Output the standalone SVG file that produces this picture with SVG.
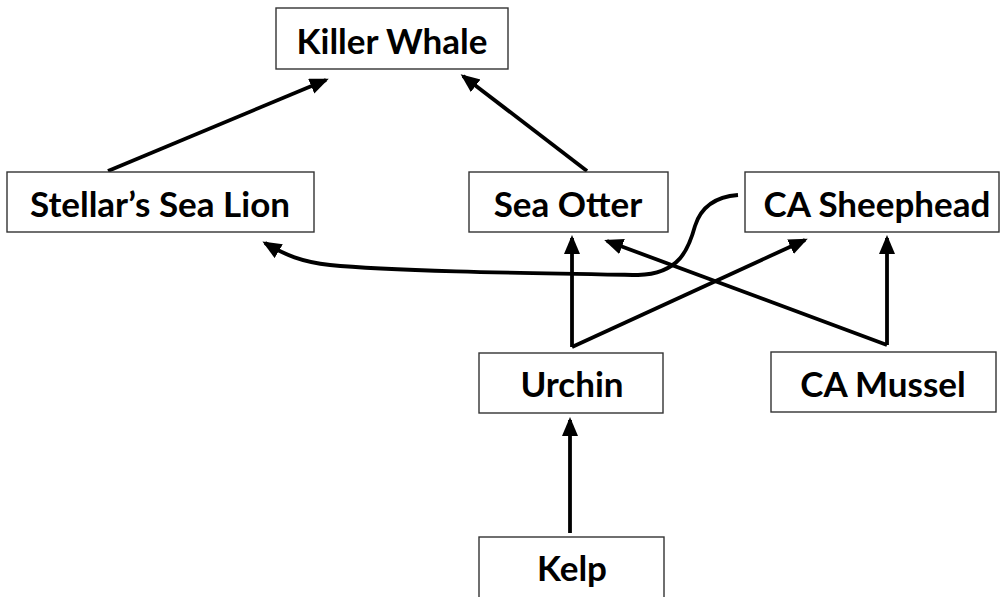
<svg xmlns="http://www.w3.org/2000/svg" width="1001" height="597" viewBox="0 0 1001 597">
<style>
.box{fill:#fff;stroke:#333;stroke-width:1.4}
.lbl{font-family:Lato,"Open Sans","Liberation Sans",sans-serif;font-weight:bold;font-size:35px;fill:#000;text-anchor:middle}
.c{fill:none;stroke:#000;stroke-width:3.8;marker-end:url(#ah)}
</style>
<defs>
<marker id="ah" markerUnits="userSpaceOnUse" markerWidth="20" markerHeight="18" refX="16" refY="8" orient="auto">
<path d="M0,0 L19,8 L0,16 z" fill="#000"/>
</marker>
</defs>
<rect width="1001" height="597" fill="#fff"/>
<g id="connectors">
<path class="c" d="M108,171 L326,80"/>
<path class="c" d="M587,171 L463,76"/>
<path class="c" d="M572,347 L572,238"/>
<path class="c" d="M572,347 L805,240"/>
<path class="c" d="M887,345 L887,238"/>
<path class="c" d="M887,345 L607,241"/>
<path class="c" d="M570,533 L570,420"/>
<path class="c" d="M738,195 C712,197 700,210 695,226 C689,248 680,274 638,275 C520,273 390,271 330,265 C302,262 285,255 265,243"/>
</g>
<g id="killer-whale"><rect class="box" x="276" y="8" width="232" height="61"/><text class="lbl" x="392" y="54">Killer Whale</text></g>
<g id="sea-lion"><rect class="box" x="7" y="172" width="307" height="60"/><text class="lbl" x="160" y="217">Stellar’s Sea Lion</text></g>
<g id="sea-otter"><rect class="box" x="469" y="172" width="199" height="60"/><text class="lbl" x="568" y="217">Sea Otter</text></g>
<g id="ca-sheephead"><rect class="box" x="745" y="172" width="254" height="60"/><text class="lbl" x="877" y="217">CA Sheephead</text></g>
<g id="urchin"><rect class="box" x="479" y="353" width="184" height="60"/><text class="lbl" x="572" y="397">Urchin</text></g>
<g id="ca-mussel"><rect class="box" x="771" y="352" width="225" height="60"/><text class="lbl" x="883" y="397">CA Mussel</text></g>
<g id="kelp"><rect class="box" x="479" y="537" width="185" height="62"/><text class="lbl" x="572" y="581">Kelp</text></g>
</svg>
